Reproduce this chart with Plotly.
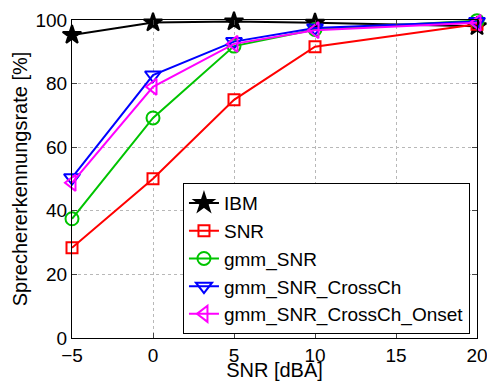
import plotly.graph_objects as go

snr_db = [-5, 0, 5, 10, 20]
ibm = [95.3, 99.2, 99.5, 99.1, 98.0]
snr = [28.4, 50.1, 74.9, 91.6, 98.7]
gmm_snr = [37.5, 69.2, 91.8, 97.0, 99.8]
gmm_snr_crossch = [50.4, 82.7, 93.2, 97.5, 99.5]
gmm_snr_crossch_onset = [48.8, 79.0, 92.5, 96.8, 99.1]

x_ticks = [-5, 0, 5, 10, 15, 20]
y_ticks = [0, 20, 40, 60, 80, 100]

series = [
    ("IBM", ibm, "#000000", "star", 14),
    ("SNR", snr, "#ff0000", "square-open", 11),
    ("gmm_SNR", gmm_snr, "#00c400", "circle-open", 13),
    ("gmm_SNR_CrossCh", gmm_snr_crossch, "#0000ff", "triangle-down-open", 14),
    ("gmm_SNR_CrossCh_Onset", gmm_snr_crossch_onset, "#ff00ff", "triangle-left-open", 14),
]

fig = go.Figure()
for name, vals, color, sym, size in series:
    fig.add_trace(go.Scatter(
        x=snr_db, y=vals, name=name, mode="lines+markers",
        line=dict(color=color, width=2),
        marker=dict(symbol=sym, size=size, color=color, line=dict(color=color, width=2)),
        cliponaxis=False,
    ))

font = "Liberation Sans, Arial, Helvetica, sans-serif"
fig.update_layout(
    width=487, height=381,
    margin=dict(l=72, r=10, t=20, b=43, autoexpand=False),
    paper_bgcolor="white", plot_bgcolor="white",
    font=dict(family=font, size=20, color="black"),
    showlegend=True,
    legend=dict(
        x=0.274, y=0.012, xanchor="left", yanchor="bottom",
        bgcolor="white", bordercolor="black", borderwidth=1,
        font=dict(size=19), tracegroupgap=0,
    ),
)
fig.update_xaxes(
    range=[-5, 20], tickvals=x_ticks, ticks="inside", ticklen=5,
    tickfont=dict(size=19), ticklabeloverflow="allow",
    showline=True, linecolor="black", linewidth=1, mirror="ticks",
    showgrid=True, gridcolor="#b8b8b8", griddash="dot", gridwidth=1,
    zeroline=False, automargin=False,
    title=dict(text="SNR [dBA]", standoff=0, font=dict(size=20)),
)
fig.update_yaxes(
    range=[0, 100], tickvals=y_ticks, ticks="inside", ticklen=5,
    tickfont=dict(size=19), ticklabeloverflow="allow",
    showline=True, linecolor="black", linewidth=1, mirror="ticks",
    showgrid=True, gridcolor="#b8b8b8", griddash="dot", gridwidth=1,
    zeroline=False, automargin=False,
    title=dict(text="Sprechererkennungsrate [%]", standoff=2, font=dict(size=20)),
)

fig.write_html("out.html", config={"displayModeBar": False},
               post_script="document.body.style.margin='0';")
